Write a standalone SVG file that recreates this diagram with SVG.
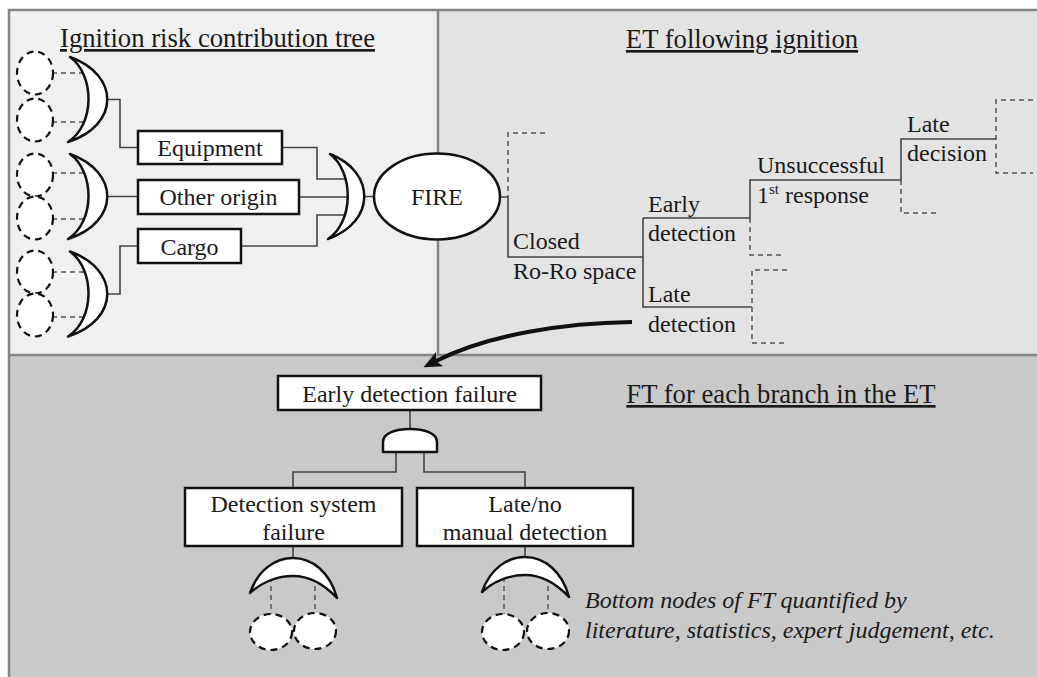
<svg xmlns="http://www.w3.org/2000/svg" width="1037" height="677" viewBox="0 0 1037 677" font-family="'Liberation Serif', 'DejaVu Serif', 'Times New Roman', serif">
<style>
text{font-family:'Liberation Serif','DejaVu Serif','Times New Roman',serif}
.t{font-size:24px;fill:#1a1a1a}
.ttl{font-size:26.7px;text-decoration:underline}
.it{font-style:italic}
.box{fill:#fff;stroke:#111;stroke-width:2.5}
.gate{fill:#fff;stroke:#111;stroke-width:2.5;stroke-linejoin:round}
.base{fill:#fff;stroke:#111;stroke-width:2.2;stroke-dasharray:7 5}
.wire{fill:none;stroke:#444;stroke-width:1.6}
.dash{fill:none;stroke:#555;stroke-width:1.5;stroke-dasharray:5 4}
.frame{fill:none;stroke:#858585;stroke-width:2.5}
</style>
<defs>
<path id="orR" d="M2,0 C52,18 52,68 0,85 C27,68 27,18 2,0 Z"/>
<path id="orD" d="M0,35 C8,12 25,0 43,0 C62,0 80,14 87,40 C72,24 58,18 43,18 C28,18 12,24 0,35 Z"/>
<ellipse id="bc" cx="0" cy="0" rx="18" ry="21.5"/>
<ellipse id="bc2" cx="0" cy="0" rx="21" ry="18"/>
<marker id="ah" markerUnits="userSpaceOnUse" markerWidth="20" markerHeight="20" refX="4" refY="8" orient="auto" viewBox="0 0 20 16">
<path d="M0,0 L18,8 L0,16 L4,8 Z" fill="#111"/>
</marker>
</defs>
<g id="panels">
<rect x="9" y="10" width="429" height="345" fill="#f0f0f0"/>
<rect x="438" y="10" width="599" height="345" fill="#e3e3e3"/>
<rect x="9" y="355" width="1028" height="322" fill="#c9c9c9"/>
<path class="frame" d="M9,677 V10 H1037 M438,10 V355 M9,355 H1037"/>
</g>
<g id="titles">
<text class="t ttl" x="217.5" y="47" text-anchor="middle">Ignition risk contribution tree</text>
<text class="t ttl" x="742" y="48" text-anchor="middle">ET following ignition</text>
<text class="t ttl" x="781" y="403" text-anchor="middle">FT for each branch in the ET</text>
</g>
<g id="connectors">
<path class="dash" d="M52,73 H84 M52,122 H84 M52,173 H84 M52,219 H84 M52,272 H84 M52,317 H84"/>
<path class="wire" d="M107,99.5 H120 V147.5 H138 M107,196.5 H138 M107,294 H120 V246 H138"/>
<path class="wire" d="M282,147.5 H317 V179 H346 M299,197 H350 M241,246 H317 V215 H346 M364,196.5 H375"/>
<path class="wire" d="M500,197 H508 V257 H643 M643,218 V307 H752 M643,218 H750 V180 H901 V139 H996"/>
<path class="dash" d="M545,133 H508 V197 M750,218 V255 H785 M787,270 H752 V343 H787 M901,180 V213 H937 M1033,100 H996 V173 H1033"/>
<path d="M632,322 C565,323 490,334 436,361" fill="none" stroke="#111" stroke-width="4" marker-end="url(#ah)"/>
<path class="wire" d="M410,410 V430 M396,452 V472 H293 V488 M424,452 V472 H525 V488 M293,546 V559 M525,546 V558"/>
<path class="dash" d="M271,577 V614 M315,577 V613 M504,577 V614 M548,577 V613"/>
</g>
<g id="basic-left">
<use href="#bc" x="35" y="73" class="base"/>
<use href="#bc" x="35" y="120" class="base"/>
<use href="#bc" x="35" y="175" class="base"/>
<use href="#bc" x="35" y="218" class="base"/>
<use href="#bc" x="35" y="272" class="base"/>
<use href="#bc" x="35" y="315" class="base"/>
</g>
<g id="gate-or-1"><use href="#orR" x="68" y="57" class="gate"/></g>
<g id="gate-or-2"><use href="#orR" x="68" y="154" class="gate"/></g>
<g id="gate-or-3"><use href="#orR" x="68" y="251.5" class="gate"/></g>
<g id="node-equipment">
<rect class="box" x="138" y="131" width="144" height="33"/>
<text class="t" x="210" y="156" text-anchor="middle">Equipment</text>
</g>
<g id="node-other">
<rect class="box" x="138" y="180" width="161" height="34"/>
<text class="t" x="218.5" y="205" text-anchor="middle">Other origin</text>
</g>
<g id="node-cargo">
<rect class="box" x="138" y="229" width="103" height="34"/>
<text class="t" x="189.5" y="254.5" text-anchor="middle">Cargo</text>
</g>
<g id="gate-or-fire">
<path class="gate" d="M330,154 C376,172 376,222 328,239 C354,222 354,172 330,154 Z"/>
</g>
<g id="node-fire">
<ellipse cx="437" cy="196.5" rx="63" ry="43" fill="#fff" stroke="#111" stroke-width="2.5"/>
<text class="t" x="437" y="205" text-anchor="middle">FIRE</text>
</g>
<g id="et-labels">
<text class="t" x="513" y="249">Closed</text>
<text class="t" x="513" y="279">Ro-Ro space</text>
<text class="t" x="648" y="212">Early</text>
<text class="t" x="648" y="241">detection</text>
<text class="t" x="648" y="302">Late</text>
<text class="t" x="648" y="332">detection</text>
<text class="t" x="757" y="173">Unsuccessful</text>
<text class="t" x="757" y="203">1<tspan font-size="15" dy="-9">st</tspan><tspan dy="9"> response</tspan></text>
<text class="t" x="907" y="132">Late</text>
<text class="t" x="907" y="161">decision</text>
</g>
<g id="node-edf">
<rect class="box" x="278" y="376" width="263" height="34"/>
<text class="t" x="409.5" y="402" text-anchor="middle">Early detection failure</text>
</g>
<g id="gate-and">
<path class="gate" d="M383,452 V442 C383,433 396,429 410,429 C424,429 437,433 437,442 V452 Z"/>
</g>
<g id="node-dsf">
<rect class="box" x="185" y="488" width="217" height="58"/>
<text class="t" x="293.5" y="512" text-anchor="middle">Detection system</text>
<text class="t" x="293.5" y="540" text-anchor="middle">failure</text>
</g>
<g id="node-lmd">
<rect class="box" x="417" y="488" width="216" height="58"/>
<text class="t" x="525" y="512" text-anchor="middle">Late/no</text>
<text class="t" x="525" y="540" text-anchor="middle">manual detection</text>
</g>
<g id="gate-or-dsf"><use href="#orD" x="250" y="558" class="gate"/></g>
<g id="gate-or-lmd"><use href="#orD" x="482" y="557" class="gate"/></g>
<g id="basic-bottom">
<use href="#bc2" x="271" y="632" class="base"/>
<use href="#bc2" x="315" y="631" class="base"/>
<use href="#bc2" x="503" y="632" class="base"/>
<use href="#bc2" x="548" y="631" class="base"/>
</g>
<g id="note">
<text class="t it" x="585" y="608">Bottom nodes of FT quantified by</text>
<text class="t it" x="585" y="638">literature, statistics, expert judgement, etc.</text>
</g>
</svg>
